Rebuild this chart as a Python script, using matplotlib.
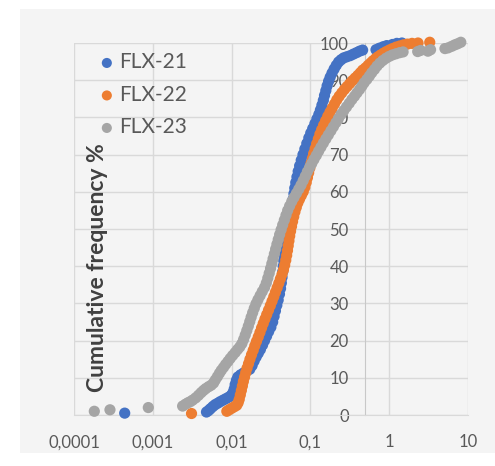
import numpy as np
import matplotlib.pyplot as plt
from matplotlib.patches import Rectangle

plt.rcParams['font.family'] = ['Lato', 'DejaVu Sans']

# grain size (x) and cumulative frequency % (y) for each sample
flx21_x = [0.00044, 0.0048, 0.0051, 0.0054, 0.0058, 0.0062, 0.0067, 0.0072, 0.0078, 0.0085,
           0.0092, 0.0099, 0.0104, 0.0108, 0.0111, 0.0115, 0.0120, 0.0130, 0.0142, 0.0156,
           0.0170, 0.0182, 0.0193, 0.0205, 0.0218, 0.0232, 0.0247, 0.0262, 0.0278, 0.0295,
           0.0315, 0.0332, 0.0346, 0.0360, 0.0375, 0.0390, 0.0405, 0.0418, 0.0428, 0.0437,
           0.0445, 0.0452, 0.0459, 0.0466, 0.0474, 0.0485, 0.0498, 0.0512, 0.0527, 0.0543,
           0.0558, 0.0573, 0.0588, 0.0603, 0.0618, 0.0633, 0.0652, 0.0675, 0.0700, 0.0730,
           0.0765, 0.0805, 0.0850, 0.0900, 0.0955, 0.101, 0.107, 0.114, 0.121, 0.128,
           0.134, 0.140, 0.146, 0.151, 0.157, 0.163, 0.170, 0.178, 0.188, 0.200,
           0.213, 0.228, 0.245, 0.265, 0.290, 0.32, 0.35, 0.385, 0.42, 0.46,
           0.68, 0.75, 0.84, 0.93, 1.10, 1.25, 1.45]
flx21_y = [0.5, 0.8, 1.2, 1.7, 2.3, 2.8, 3.2, 3.6, 4.0, 4.4,
           4.8, 5.3, 6.0, 7.0, 8.2, 9.3, 10.2, 10.8, 11.3, 11.8,
           12.3, 13.3, 14.5, 15.6, 16.6, 17.6, 18.8, 20.0, 21.2, 22.4,
           23.6, 25.0, 26.5, 28.0, 29.5, 30.9, 32.5, 34.0, 35.5, 37.0,
           38.5, 40.0, 41.5, 43.0, 44.5, 46.0, 47.5, 49.0, 50.5, 52.0,
           53.5, 55.0, 56.5, 58.0, 59.5, 61.0, 62.5, 64.0, 65.5, 67.0,
           68.5, 70.0, 71.5, 73.0, 74.5, 75.8, 77.0, 78.3, 79.6, 80.8,
           82.0, 83.3, 84.6, 85.9, 87.2, 88.5, 89.7, 90.8, 91.9, 93.0,
           94.0, 94.9, 95.5, 96.0, 96.3, 96.6, 97.0, 97.4, 97.8, 98.1,
           98.2, 98.6, 99.0, 99.3, 99.6, 99.9, 100.0]

flx22_x = [0.0031, 0.0087, 0.0093, 0.0100, 0.0108, 0.0116, 0.0121, 0.0125, 0.0129, 0.0133,
           0.0137, 0.0141, 0.0146, 0.0151, 0.0157, 0.0164, 0.0171, 0.0179, 0.0188, 0.0197,
           0.0207, 0.0218, 0.0229, 0.0240, 0.0252, 0.0265, 0.0279, 0.0294, 0.0310, 0.0326,
           0.0343, 0.0360, 0.0378, 0.0397, 0.0416, 0.0436, 0.0455, 0.0472, 0.0487, 0.0500,
           0.0512, 0.0523, 0.0534, 0.0546, 0.0560, 0.0576, 0.0594, 0.0614, 0.0636, 0.0662,
           0.0692, 0.0727, 0.0767, 0.0810, 0.0850, 0.0885, 0.0917, 0.0950, 0.0985, 0.102,
           0.106, 0.110, 0.115, 0.120, 0.126, 0.132, 0.139, 0.147, 0.156, 0.166,
           0.177, 0.189, 0.202, 0.216, 0.232, 0.250, 0.270, 0.292, 0.316, 0.342,
           0.370, 0.40, 0.43, 0.46, 0.50, 0.54, 0.58, 0.62, 0.67, 0.72,
           0.78, 0.85, 0.92, 1.00, 1.10, 1.22, 1.36, 1.52, 1.70, 1.95,
           2.32, 3.27]
flx22_y = [0.4, 1.0, 1.4, 1.8, 2.2, 2.6, 3.3, 4.2, 5.4, 6.6,
           7.8, 9.0, 10.2, 11.4, 12.6, 13.8, 15.0, 16.2, 17.4, 18.6,
           19.8, 21.0, 22.2, 23.4, 24.6, 25.8, 27.0, 28.2, 29.4, 30.6,
           31.8, 33.0, 34.2, 35.4, 36.6, 37.8, 39.0, 40.3, 41.6, 42.9,
           44.2, 45.5, 46.8, 48.1, 49.4, 50.7, 52.0, 53.3, 54.6, 55.8,
           57.0, 58.0, 59.0, 60.0, 61.2, 62.5, 63.8, 65.1, 66.4, 67.7,
           69.0, 70.3, 71.6, 72.9, 74.2, 75.5, 76.7, 77.9, 79.1, 80.3,
           81.4, 82.5, 83.6, 84.7, 85.7, 86.6, 87.5, 88.3, 89.1, 89.9,
           90.6, 91.3, 92.0, 92.7, 93.3, 94.0, 94.6, 95.2, 95.8, 96.3,
           96.8, 97.3, 97.7, 98.1, 98.5, 98.9, 99.2, 99.5, 99.7, 99.9,
           100.0, 100.2]

flx23_x = [0.000181, 0.000286, 0.000877, 0.00239, 0.0026, 0.0028, 0.0030, 0.0032, 0.0035, 0.0038,
           0.0041, 0.0044, 0.0047, 0.0051, 0.0055, 0.0059, 0.0062, 0.0066, 0.0070, 0.0074,
           0.0079, 0.0084, 0.0090, 0.0096, 0.0103, 0.0111, 0.0119, 0.0127, 0.0135, 0.0142,
           0.0149, 0.0156, 0.0163, 0.0170, 0.0177, 0.0185, 0.0194, 0.0204, 0.0216, 0.0230,
           0.0245, 0.0262, 0.0276, 0.0288, 0.0300, 0.0312, 0.0324, 0.0336, 0.0349, 0.0362,
           0.0376, 0.0391, 0.0407, 0.0425, 0.0445, 0.0467, 0.0490, 0.0515, 0.0545, 0.0580,
           0.0620, 0.0665, 0.0712, 0.0760, 0.0810, 0.0862, 0.0915, 0.0975, 0.104, 0.111,
           0.119, 0.127, 0.136, 0.146, 0.157, 0.169, 0.182, 0.196, 0.211, 0.227,
           0.245, 0.265, 0.287, 0.311, 0.336, 0.363, 0.39, 0.42, 0.45, 0.48,
           0.52, 0.56, 0.60, 0.65, 0.70, 0.76, 0.83, 0.91, 1.0, 1.1,
           1.22, 1.36, 1.5, 2.3, 2.5, 3.1, 3.35, 5.1, 5.6, 6.2,
           6.8, 7.4, 8.1]
flx23_y = [1.0, 1.4, 2.0, 2.4, 2.9, 3.3, 3.6, 4.0, 4.6, 5.3,
           6.0, 6.6, 7.1, 7.6, 8.0, 8.6, 9.4, 10.3, 11.2, 12.0,
           12.8, 13.6, 14.4, 15.2, 16.0, 16.8, 17.6, 18.3, 19.2, 20.3,
           21.5, 22.7, 23.9, 25.1, 26.3, 27.5, 28.7, 29.9, 31.0, 32.1,
           33.2, 34.3, 35.5, 36.8, 38.1, 39.4, 40.7, 42.0, 43.3, 44.6,
           45.9, 47.2, 48.5, 49.8, 51.1, 52.4, 53.7, 55.0, 56.2, 57.4,
           58.5, 59.6, 60.7, 61.8, 63.0, 64.2, 65.4, 66.5, 67.6, 68.7,
           69.8, 70.9, 72.0, 73.1, 74.2, 75.3, 76.4, 77.5, 78.6, 79.7,
           80.8, 81.8, 82.8, 83.8, 84.8, 85.7, 86.6, 87.5, 88.4, 89.3,
           90.2, 91.1, 92.0, 92.9, 93.8, 94.6, 95.3, 95.9, 96.4, 96.8,
           97.1, 97.4, 97.6, 97.7, 98.0, 97.8, 98.2, 98.5, 98.7, 99.1,
           99.5, 99.8, 100.2]

x_ticks = [0.0001, 0.001, 0.01, 0.1, 1, 10]
x_ticklabels = ["0,0001", "0,001", "0,01", "0,1", "1", "10"]
y_ticks = list(range(0, 101, 10))

bg = "#F4F4F4"
grid_c = "#D9D9D9"
text_c = "#595959"

fig = plt.figure(figsize=(4.95, 4.66), dpi=100)
fig.patch.set_facecolor("white")
# light gray chart area behind the axes
fig.patches.append(Rectangle((20 / 495, 1 - 453 / 466), 475 / 495, 444 / 466,
                             transform=fig.transFigure, facecolor=bg, edgecolor="none", zorder=-10))

ax = fig.add_axes([74 / 495, 1 - 415 / 466, 394 / 495, 372 / 466])
ax.set_facecolor(bg)

series = [(flx21_x, flx21_y, "#4472C4", "FLX-21"),
          (flx22_x, flx22_y, "#ED7D31", "FLX-22"),
          (flx23_x, flx23_y, "#A5A5A5", "FLX-23")]
for xs, ys, c, lab in series:
    ax.scatter(xs, ys, s=65, color=c, edgecolors="none", label=lab, zorder=3, clip_on=False)

ax.set_xscale("log")
ax.set_xlim(0.0001, 10)
ax.set_ylim(0, 100)
ax.set_xticks(x_ticks)
ax.set_xticklabels(x_ticklabels)
ax.xaxis.set_minor_locator(plt.NullLocator())
ax.set_yticks(y_ticks)

# vertical axis crosses at 0.5
ax.spines["left"].set_position(("data", 0.5))
ax.spines["left"].set_color("#C8C8C8")
ax.spines["bottom"].set_color(grid_c)
for s in ["top", "right"]:
    ax.spines[s].set_visible(False)
ax.grid(True, color=grid_c, linewidth=1.0, zorder=0)
ax.set_axisbelow(True)
ax.tick_params(axis="both", length=0, labelsize=12, labelcolor=text_c)
ax.tick_params(axis="x", pad=14)
ax.tick_params(axis="y", pad=12)

fig.text(98 / 495, 1 - 268 / 466, "Cumulative frequency %", rotation=90,
         ha="center", va="center", fontsize=16.5, fontweight="bold", color="#404040")

leg = ax.legend(loc="upper left", bbox_to_anchor=(86 / 495, 1 - 42 / 466),
                bbox_transform=fig.transFigure, frameon=False, fontsize=15,
                handletextpad=0.1, labelspacing=0.6, borderpad=0, handlelength=1.0,
                markerscale=0.9)
for t in leg.get_texts():
    t.set_color(text_c)

fig.savefig("out.png", dpi=100, facecolor="white")
